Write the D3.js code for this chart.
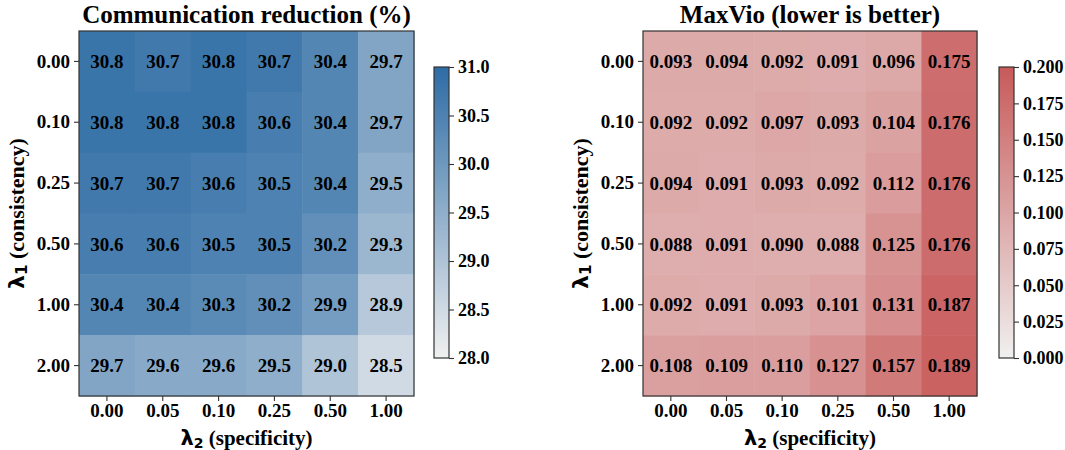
<!DOCTYPE html>
<html>
<head>
<meta charset="utf-8">
<script src="https://cdn.jsdelivr.net/npm/d3@7"></script>
<style>
  html, body { margin: 0; padding: 0; background: #fff; }
  svg text { font-family: "Liberation Serif", "Times New Roman", serif; font-weight: bold; fill: #000; }
</style>
</head>
<body>
<svg id="chart" width="1065" height="450"></svg>
<script>
// Grid labels
const lambda2 = ["0.00", "0.05", "0.10", "0.25", "0.50", "1.00"]; // columns (specificity)
const lambda1 = ["0.00", "0.10", "0.25", "0.50", "1.00", "2.00"]; // rows (consistency)

// Communication reduction (%) per (lambda1 row, lambda2 column)
const commReduction = [
  [30.8, 30.7, 30.8, 30.7, 30.4, 29.7],
  [30.8, 30.8, 30.8, 30.6, 30.4, 29.7],
  [30.7, 30.7, 30.6, 30.5, 30.4, 29.5],
  [30.6, 30.6, 30.5, 30.5, 30.2, 29.3],
  [30.4, 30.4, 30.3, 30.2, 29.9, 28.9],
  [29.7, 29.6, 29.6, 29.5, 29.0, 28.5]
];

// Maximum violation per (lambda1 row, lambda2 column)
const maxVio = [
  [0.093, 0.094, 0.092, 0.091, 0.096, 0.175],
  [0.092, 0.092, 0.097, 0.093, 0.104, 0.176],
  [0.094, 0.091, 0.093, 0.092, 0.112, 0.176],
  [0.088, 0.091, 0.090, 0.088, 0.125, 0.176],
  [0.092, 0.091, 0.093, 0.101, 0.131, 0.187],
  [0.108, 0.109, 0.110, 0.127, 0.157, 0.189]
];

const commTicks = [28.0, 28.5, 29.0, 29.5, 30.0, 30.5, 31.0];
const vioTicks = [0.000, 0.025, 0.050, 0.075, 0.100, 0.125, 0.150, 0.175, 0.200];

const svg = d3.select("#chart");
const frameColor = "#333";

function drawPanel(opt) {
  const g = svg.append("g");
  const x = d3.scaleBand().domain(lambda2).range([opt.left, opt.left + opt.width]);
  const y = d3.scaleBand().domain(lambda1).range([opt.top, opt.top + opt.height]);
  const color = d3.scaleLinear().domain(opt.domain).range([opt.low, opt.high])
    .interpolate(d3.interpolateRgb).clamp(true);

  const cells = [];
  opt.values.forEach((row, i) => row.forEach((v, j) => cells.push({ r: lambda1[i], c: lambda2[j], v })));

  g.selectAll("rect.cell").data(cells).join("rect")
    .attr("class", "cell")
    .attr("x", d => x(d.c)).attr("y", d => y(d.r))
    .attr("width", x.bandwidth() + 0.5).attr("height", y.bandwidth() + 0.5)
    .attr("fill", d => color(d.v));

  g.selectAll("text.val").data(cells).join("text")
    .attr("class", "val")
    .attr("x", d => x(d.c) + x.bandwidth() / 2)
    .attr("y", d => y(d.r) + y.bandwidth() / 2)
    .attr("dy", "0.35em")
    .attr("text-anchor", "middle")
    .style("font-size", "19px")
    .text(d => opt.fmt(d.v));

  // frame
  g.append("rect")
    .attr("x", opt.left).attr("y", opt.top)
    .attr("width", opt.width).attr("height", opt.height)
    .attr("fill", "none").attr("stroke", frameColor).attr("stroke-width", 1.2);

  // axes
  const xAxis = g.append("g").attr("transform", `translate(0,${opt.top + opt.height})`)
    .call(d3.axisBottom(x).tickSize(5).tickPadding(3));
  const yAxis = g.append("g").attr("transform", `translate(${opt.left},0)`)
    .call(d3.axisLeft(y).tickSize(5).tickPadding(4));
  [xAxis, yAxis].forEach(a => {
    a.select(".domain").remove();
    a.selectAll(".tick line").attr("stroke", frameColor).attr("stroke-width", 1.1);
    a.selectAll(".tick text").style("font-size", "19px")
      .style("font-family", "'Liberation Serif', serif").style("font-weight", "bold").attr("fill", "#000");
  });

  // title
  g.append("text")
    .attr("x", opt.left + opt.width / 2).attr("y", opt.top - 8)
    .attr("text-anchor", "middle")
    .style("font-size", "25px")
    .text(opt.title);

  // x label: lambda_2 (specificity)
  const xl = g.append("text")
    .attr("x", opt.left + opt.width / 2).attr("y", opt.top + opt.height + 49)
    .attr("text-anchor", "middle")
    .style("font-size", "21px");
  xl.append("tspan").style("font-family", "'DejaVu Sans', sans-serif").text("λ");
  xl.append("tspan").style("font-family", "'DejaVu Sans', sans-serif").style("font-size", "14px").attr("dy", 3).text("2");
  xl.append("tspan").attr("dy", -3).text(" (specificity)");

  // y label: lambda_1 (consistency)
  const cy = opt.top + opt.height / 2;
  const yl = g.append("text")
    .attr("transform", `translate(${opt.left - 55},${cy}) rotate(-90)`)
    .attr("text-anchor", "middle")
    .style("font-size", "22px");
  yl.append("tspan").style("font-family", "'DejaVu Sans', sans-serif").text("λ");
  yl.append("tspan").style("font-family", "'DejaVu Sans', sans-serif").style("font-size", "15px").attr("dy", 3).text("1");
  yl.append("tspan").attr("dy", -3).text(" (consistency)");

  // colorbar
  const cb = opt.cbar;
  const gradId = opt.id + "-grad";
  const grad = svg.append("defs").append("linearGradient")
    .attr("id", gradId).attr("x1", 0).attr("y1", 1).attr("x2", 0).attr("y2", 0);
  d3.range(0, 1.0001, 0.1).forEach(t => {
    const v = opt.domain[0] + t * (opt.domain[1] - opt.domain[0]);
    grad.append("stop").attr("offset", t).attr("stop-color", color(v));
  });
  const cs = d3.scaleLinear().domain(opt.domain).range([cb.top + cb.height, cb.top]);
  g.append("rect")
    .attr("x", cb.left).attr("y", cb.top).attr("width", cb.width).attr("height", cb.height)
    .attr("fill", `url(#${gradId})`)
    .attr("stroke", frameColor).attr("stroke-width", 1.2);
  const cax = g.append("g").attr("transform", `translate(${cb.left + cb.width},0)`)
    .call(d3.axisRight(cs).tickValues(opt.ticks).tickFormat(opt.tickFmt).tickSize(5).tickPadding(4));
  cax.select(".domain").remove();
  cax.selectAll(".tick line").attr("stroke", frameColor).attr("stroke-width", 1.1);
  cax.selectAll(".tick text").style("font-size", "18px")
    .style("font-family", "'Liberation Serif', serif").style("font-weight", "bold").attr("fill", "#000");
}

drawPanel({
  id: "comm",
  left: 79, top: 31, width: 335, height: 365,
  values: commReduction,
  domain: [28, 31],
  low: "#f0f0f0", high: "#2d6ca5",
  fmt: d3.format(".1f"),
  title: "Communication reduction (%)",
  cbar: { left: 434, top: 67, width: 15, height: 291 },
  ticks: commTicks,
  tickFmt: d3.format(".1f")
});

drawPanel({
  id: "vio",
  left: 643, top: 31, width: 334, height: 365,
  values: maxVio,
  domain: [0, 0.2],
  low: "#f0f0f0", high: "#c85a5a",
  fmt: d3.format(".3f"),
  title: "MaxVio (lower is better)",
  cbar: { left: 999, top: 67, width: 15, height: 291 },
  ticks: vioTicks,
  tickFmt: d3.format(".3f")
});
</script>
</body>
</html>
